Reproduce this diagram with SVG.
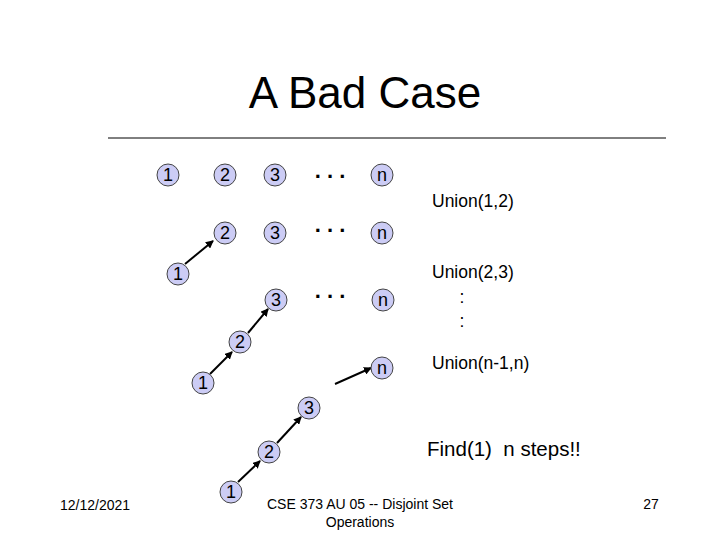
<svg xmlns="http://www.w3.org/2000/svg" width="720" height="540" viewBox="0 0 720 540">
<style>
.nd circle{fill:#ccccf5;stroke:#444;stroke-width:1}
.nd text{font-family:"Liberation Sans",Arial,sans-serif;font-size:18px;fill:#000;text-anchor:middle}
.t{font-family:"Liberation Sans",Arial,sans-serif;fill:#000}
.dots{font-family:"Liberation Sans",Arial,sans-serif;font-size:22px;font-weight:bold;fill:#000;text-anchor:middle}
.e line{stroke:#000;stroke-width:2;marker-end:url(#ah)}
</style>
<defs>
<marker id="ah" markerWidth="8" markerHeight="8" refX="7" refY="4" orient="auto" markerUnits="userSpaceOnUse">
<path d="M0,0 L8,4 L0,8 z" fill="#000"/>
</marker>
</defs>
<rect width="720" height="540" fill="#fff"/>
<text class="t" x="365" y="108" font-size="44" text-anchor="middle">A Bad Case</text>
<line x1="108" y1="138" x2="666" y2="138" stroke="#000" stroke-width="1"/>

<g id="edges" class="e">
<line x1="185" y1="264" x2="213" y2="241"/>
<line x1="210" y1="374" x2="232" y2="352"/>
<line x1="248" y1="333" x2="268" y2="309"/>
<line x1="335" y1="384" x2="371" y2="368"/>
<line x1="238" y1="482" x2="260" y2="461"/>
<line x1="277" y1="443" x2="301" y2="417"/>
</g>

<g id="r1n1" class="nd"><circle cx="168" cy="175" r="11"/><text x="168" y="181">1</text></g>
<g id="r1n2" class="nd"><circle cx="225" cy="175" r="11"/><text x="225" y="181">2</text></g>
<g id="r1n3" class="nd"><circle cx="275" cy="175" r="11"/><text x="275" y="181">3</text></g>
<text class="dots" x="330" y="178">. . .</text>
<g id="r1nn" class="nd"><circle cx="382" cy="175" r="11"/><text x="382" y="181">n</text></g>

<g id="r2n2" class="nd"><circle cx="225" cy="233" r="11"/><text x="225" y="239">2</text></g>
<g id="r2n3" class="nd"><circle cx="275" cy="233" r="11"/><text x="275" y="239">3</text></g>
<text class="dots" x="330" y="232">. . .</text>
<g id="r2nn" class="nd"><circle cx="382" cy="233" r="11"/><text x="382" y="239">n</text></g>
<g id="r2n1" class="nd"><circle cx="178" cy="274" r="11"/><text x="178" y="280">1</text></g>

<g id="r3n3" class="nd"><circle cx="276" cy="300" r="11"/><text x="276" y="306">3</text></g>
<text class="dots" x="330" y="298">. . .</text>
<g id="r3nn" class="nd"><circle cx="383" cy="300" r="11"/><text x="383" y="306">n</text></g>
<g id="r3n2" class="nd"><circle cx="240" cy="342" r="11"/><text x="240" y="348">2</text></g>
<g id="r3n1" class="nd"><circle cx="203" cy="383" r="11"/><text x="203" y="389">1</text></g>

<g id="r4nn" class="nd"><circle cx="382" cy="368" r="11"/><text x="382" y="374">n</text></g>
<g id="r4n3" class="nd"><circle cx="309" cy="408" r="11"/><text x="309" y="414">3</text></g>
<g id="r4n2" class="nd"><circle cx="269" cy="452" r="11"/><text x="269" y="458">2</text></g>
<g id="r4n1" class="nd"><circle cx="231" cy="492" r="11"/><text x="231" y="498">1</text></g>

<text class="t" x="432" y="207" font-size="17.5">Union(1,2)</text>
<text class="t" x="432" y="278" font-size="17.5">Union(2,3)</text>
<text class="t" x="462" y="303" font-size="17.5" text-anchor="middle">:</text>
<text class="t" x="462" y="327" font-size="17.5" text-anchor="middle">:</text>
<text class="t" x="432" y="369" font-size="17.5">Union(n-1,n)</text>
<text class="t" x="427" y="456" font-size="20.5" xml:space="preserve">Find(1)  n steps!!</text>

<text class="t" x="60" y="510" font-size="14">12/12/2021</text>
<text class="t" x="360" y="509" font-size="14" text-anchor="middle">CSE 373 AU 05 -- Disjoint Set</text>
<text class="t" x="360" y="527" font-size="14" text-anchor="middle">Operations</text>
<text class="t" x="651" y="509" font-size="14" text-anchor="middle">27</text>
</svg>
